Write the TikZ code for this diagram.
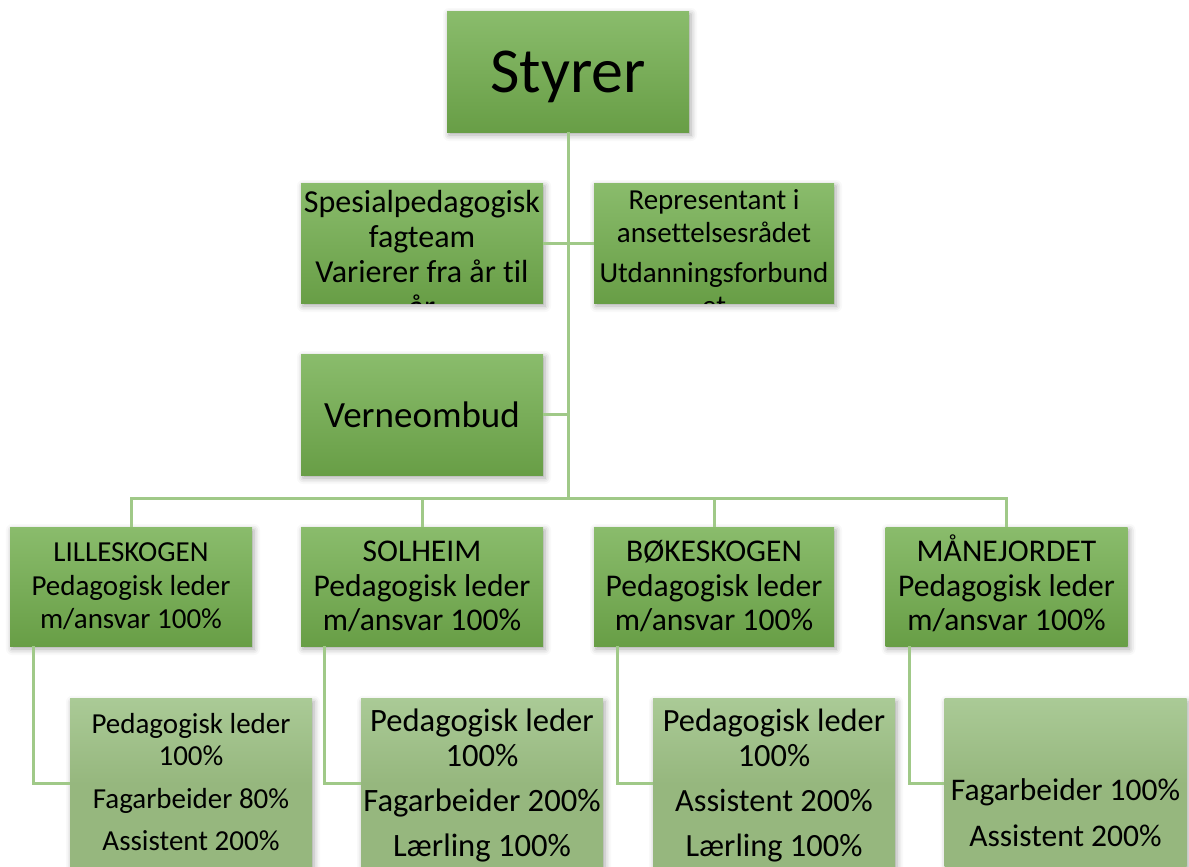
\documentclass[tikz,border=0pt]{standalone}
\usepackage{fontspec}
\setmainfont{Carlito}[RawFeature={-liga;-clig;-calt;-dlig}]
\usetikzlibrary{positioning,calc,shadows.blur}
\definecolor{boxTop}{RGB}{138,188,108}
\definecolor{boxBot}{RGB}{104,158,70}
\definecolor{subTop}{RGB}{170,202,150}
\definecolor{subBot}{RGB}{150,183,126}
\definecolor{linkGreen}{RGB}{160,201,136}
\tikzset{
    mainBox/.style={rectangle, top color=boxTop, bottom color=boxBot, minimum width=121pt, minimum height=60pt, inner sep=0pt, align=center,
        blur shadow={shadow xshift=1pt, shadow yshift=-1.5pt, shadow blur radius=3pt, shadow opacity=35}},
    subBox/.style={rectangle, top color=subTop, bottom color=subBot, middle color=subBot, minimum width=121pt, minimum height=85pt, inner sep=0pt,
        blur shadow={shadow xshift=1pt, shadow yshift=-1.5pt, shadow blur radius=3pt, shadow opacity=35}},
    boxText/.style={inner sep=0pt, align=center, anchor=north},
    link/.style={draw=linkGreen, line width=1.5pt}
}

\begin{document}
\begin{tikzpicture}[x=0.5pt,y=-0.5pt]
\useasboundingbox (0,0) rectangle (1189,867);
\clip (0,0) rectangle (1189,867);

% top
\node[mainBox, minimum height=60.5pt, text depth=0pt, font=\fontsize{32}{38}\selectfont] (styrer) at (568,71.5) {Styrer};
\node[mainBox] (spes) at (422,243) {};
\node[mainBox, minimum width=120pt] (repr) at (714,243) {};
\node[mainBox, minimum height=60.5pt, font=\fontsize{18.5}{22}\selectfont] (verne) at (422,414.5) {Verneombud};

\begin{scope}
  \clip (spes.south west) rectangle (spes.north east);
  \node[boxText, below=3.5pt of spes.north, font=\fontsize{16}{17.5}\selectfont] (spesText) {Spesialpedagogisk\\fagteam\\Varierer fra år til\\år};
\end{scope}
\begin{scope}
  \clip (repr.south west) rectangle (repr.north east);
  \node[boxText, below=3.5pt of repr.north, font=\fontsize{14.5}{16.5}\selectfont] (reprText) {Representant i\\ansettelsesrådet\\[3.5pt]Utdanningsforbund\\et};
\end{scope}

% avdelinger
\node[mainBox, minimum height=59.5pt, font=\fontsize{14.5}{16.75}\selectfont] (lille) at (131,586.5) {LILLESKOGEN\\Pedagogisk leder\\m/ansvar 100\%};
\node[mainBox, minimum height=59.5pt, font=\fontsize{15.8}{17.25}\selectfont] (solheim) at (422,586.5) {SOLHEIM\\Pedagogisk leder\\m/ansvar 100\%};
\node[mainBox, minimum height=59.5pt, minimum width=120pt, font=\fontsize{15.8}{17.25}\selectfont] (boke) at (714,586.5) {BØKESKOGEN\\Pedagogisk leder\\m/ansvar 100\%};
\node[mainBox, minimum height=59.5pt, font=\fontsize{15.8}{17.25}\selectfont] (mane) at (1006.5,586.5) {M\smash{Å}NEJORDET\\Pedagogisk leder\\m/ansvar 100\%};

% ansatte
\node[subBox, anchor=north west] (lilleSub) at ([shift={(60,52)}]lille.south west) {};
\node[subBox, anchor=north west] (solheimSub) at ([shift={(60,52)}]solheim.south west) {};
\node[subBox, anchor=north west] (bokeSub) at ([shift={(59,52)}]boke.south west) {};
\node[subBox, anchor=north west] (maneSub) at ([shift={(59,52)}]mane.south west) {};

\node[boxText, below=7.5pt of lilleSub.north, font=\fontsize{14.5}{16}\selectfont] (lilleText) {Pedagogisk leder\\100\%\\[5.5pt]Fagarbeider 80\%\\[5pt]Assistent 200\%};
\node[boxText, below=5pt of solheimSub.north, font=\fontsize{16.3}{17.5}\selectfont] (solheimText) {Pedagogisk leder\\100\%\\[5pt]Fagarbeider 200\%\\[5pt]Lærling 100\%};
\node[boxText, below=5pt of bokeSub.north, font=\fontsize{16.2}{17.5}\selectfont] (bokeText) {Pedagogisk leder\\100\%\\[5pt]Assistent 200\%\\[5pt]Lærling 100\%};
\node[boxText, below=40pt of maneSub.north, font=\fontsize{15.75}{17}\selectfont] (maneText) {Fagarbeider 100\%\\[6pt]Assistent 200\%};

% linjer
\coordinate (busMid) at (568,498);
\draw[link] (styrer.south) -- (busMid);
\draw[link] (spes.east) -- (repr.west);
\draw[link] (verne.east) -- (verne.east -| styrer.south);
\foreach \b in {lille,solheim,boke,mane} {
  \draw[link] (busMid) -| (\b.north);
  \draw[link] ([xshift=12pt]\b.south west) |- (\b Sub.west);
}

\end{tikzpicture}
\end{document}
